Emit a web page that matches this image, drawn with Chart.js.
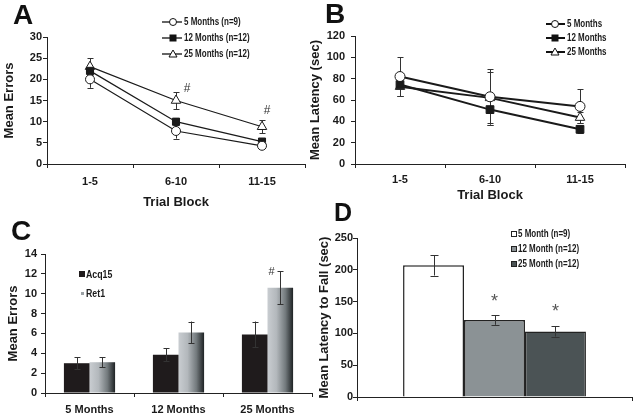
<!DOCTYPE html>
<html>
<head>
<meta charset="utf-8">
<script src="https://cdn.jsdelivr.net/npm/chart.js@4.4.0/dist/chart.umd.min.js"></script>
<style>
  body { margin: 0; background: #fff; }
  #wrap { position: relative; width: 637px; height: 419px; overflow: hidden; background: #fff;
          font-family: 'Liberation Sans', Arial, sans-serif; color: #1a1a1a; }
  canvas { position: absolute; }
  .letter { position: absolute; font-weight: bold; font-size: 28px; line-height: 28px; color: #111; }
  .leg { position: absolute; font-weight: bold; font-size: 10px; line-height: 12px; white-space: nowrap;
         transform: scaleX(0.8); transform-origin: 0 50%; color: #1a1a1a; }
  .legsvg { position: absolute; line-height: 0; }
  .legsvg svg { display: block; }
</style>
</head>
<body>
<div id="wrap">
  <canvas id="chartA" width="318" height="210" style="left:0;top:0"></canvas>
  <canvas id="chartB" width="331" height="210" style="left:306px;top:0"></canvas>
  <canvas id="chartC" width="318" height="209" style="left:0;top:210px"></canvas>
  <canvas id="chartD" width="331" height="209" style="left:306px;top:210px"></canvas>
  <div class="letter" style="left:13px;top:1px">A</div>
  <div class="letter" style="left:325px;top:0px">B</div>
  <div class="letter" style="left:11px;top:217px">C</div>
  <div class="letter" style="left:334px;top:200px;font-size:25px;line-height:25px">D</div>
</div>
<script>
// Panel A: errors per trial block
const trialBlocks = ['1-5', '6-10', '11-15'];
const seriesA = ['5 Months (n=9)', '12 Months (n=12)', '25 Months (n=12)'];
const errors5 = [20, 7.8, 4.3];
const errors5Err = [2, 1.8, 0.5];
const errors12 = [22, 10, 5.3];
const errors12Err = [0.8, 0.8, 0.5];
const errors25 = [23, 15, 8.8];
const errors25Err = [2, 2, 1.5];

// Panel B: latency per trial block
const seriesB = ['5 Months', '12 Months', '25 Months'];
const latency5 = [82, 63, 54];
const latency5Err = [18, 26, 16];
const latency12 = [74.5, 51, 32.5];
const latency12Err = [11, 14, 3];
const latency25 = [72.5, 62, 43.5];
const latency25Err = [9, 24, 5];

// Panel C: acquisition vs retention errors
const ageGroups = ['5 Months', '12 Months', '25 Months'];
const seriesC = ['Acq15', 'Ret1'];
const acq15 = [3.0, 3.85, 5.9];
const acq15Err = [0.6, 0.65, 1.3];
const ret1 = [3.1, 6.1, 10.6];
const ret1Err = [0.5, 1.1, 1.65];

// Panel D: rotarod latency to fall
const seriesD = ['5 Month (n=9)', '12 Month (n=12)', '25 Month (n=12)'];
const fallLatency = [207, 121, 103];
const fallErr = [16, 7.5, 8];

const ink = '#1a1a1a';
const family = "'Liberation Sans', Arial, sans-serif";
function bold(size) { return { family: family, size: size, weight: 'bold' }; }

// error bars drawn from each dataset's "errors" array
function errorBars(cap, under) {
  function draw(chart) {
    const ctx = chart.ctx;
    const y = chart.scales.y;
    ctx.save();
    ctx.strokeStyle = '#333';
    ctx.lineWidth = 1;
    chart.data.datasets.forEach((ds, di) => {
      if (!ds.errors) return;
      chart.getDatasetMeta(di).data.forEach((el, i) => {
        const top = y.getPixelForValue(ds.data[i] + ds.errors[i]);
        const bot = y.getPixelForValue(ds.data[i] - ds.errors[i]);
        const x = Math.round(el.x) + 0.5;
        ctx.beginPath();
        ctx.moveTo(x, top); ctx.lineTo(x, bot);
        ctx.moveTo(x - cap, Math.round(top) + 0.5); ctx.lineTo(x + cap, Math.round(top) + 0.5);
        ctx.moveTo(x - cap, Math.round(bot) + 0.5); ctx.lineTo(x + cap, Math.round(bot) + 0.5);
        ctx.stroke();
      });
    });
    ctx.restore();
  }
  return {
    id: 'errorBars',
    beforeDatasetsDraw(chart) { if (under) draw(chart); },
    afterDatasetsDraw(chart) { if (!under) draw(chart); }
  };
}

// significance marks (# and *) placed at data values
function marks(items) {
  return {
    id: 'marks',
    afterDatasetsDraw(chart) {
      const ctx = chart.ctx;
      items.forEach(m => {
        const x = m.dataset !== undefined
          ? chart.getDatasetMeta(m.dataset).data[m.index].x
          : chart.scales.x.getPixelForValue(m.index);
        const y = chart.scales.y.getPixelForValue(m.value);
        ctx.save();
        ctx.font = m.font;
        ctx.fillStyle = m.color;
        ctx.textAlign = 'center';
        ctx.textBaseline = 'middle';
        ctx.fillText(m.text, x + (m.dx || 0), y);
        ctx.restore();
      });
    }
  };
}

function xAxis(opts) {
  return {
    offset: true,
    grid: { offset: true, drawOnChartArea: false, tickLength: 4, color: '#222' },
    border: { color: '#222' },
    ticks: { font: bold(11), color: ink, padding: opts.pad, display: opts.labels !== false },
    title: opts.title ? { display: true, text: opts.title, font: bold(13), color: ink,
                          padding: { top: 0, bottom: opts.titlePad } } : { display: false },
    afterFit: s => { s.height = opts.height; }
  };
}

function yAxis(opts) {
  return {
    min: 0, max: opts.max,
    grid: { drawOnChartArea: false, tickLength: 4, color: '#222' },
    border: { color: '#222' },
    ticks: { stepSize: opts.step, font: bold(11), color: ink, padding: opts.pad },
    title: { display: true, text: opts.title, font: bold(13), color: ink,
             padding: { top: opts.titlePad, bottom: 0 } },
    afterFit: s => { s.width = opts.width; }
  };
}

function lineSet(label, data, errors, style, fill, radius, width) {
  return {
    label: label, data: data, errors: errors,
    borderColor: ink, borderWidth: width, tension: 0, fill: false,
    pointStyle: style, pointRadius: radius, pointBackgroundColor: fill,
    pointBorderColor: ink, pointBorderWidth: 1
  };
}

const base = { responsive: false, animation: false, events: [] };

// A
new Chart(document.getElementById('chartA'), {
  type: 'line',
  data: {
    labels: trialBlocks,
    datasets: [
      lineSet(seriesA[0], errors5, errors5Err, 'circle', '#fff', 4.5, 1.2),
      lineSet(seriesA[1], errors12, errors12Err, 'rect', ink, 5, 1.2),
      lineSet(seriesA[2], errors25, errors25Err, 'triangle', '#fff', 5.5, 1.2)
    ]
  },
  options: Object.assign({}, base, {
    layout: { padding: { top: 37, right: 13, left: 0, bottom: 0 } },
    plugins: { legend: { display: false }, tooltip: { enabled: false } },
    scales: {
      x: xAxis({ pad: 7, title: 'Trial Block', titlePad: 0, height: 46 }),
      y: yAxis({ max: 30, step: 5, pad: 1, title: 'Mean Errors', titlePad: 2, width: 47 })
    }
  }),
  plugins: [errorBars(3, true), marks([
    { text: '#', index: 1, value: 17.7, dx: 11, font: '12px ' + family, color: '#333' },
    { text: '#', index: 2, value: 12.5, dx: 5, font: '12px ' + family, color: '#333' }
  ])]
});

// B
new Chart(document.getElementById('chartB'), {
  type: 'line',
  data: {
    labels: trialBlocks,
    datasets: [
      lineSet(seriesB[0], latency5, latency5Err, 'circle', '#fff', 5, 2),
      lineSet(seriesB[1], latency12, latency12Err, 'rect', ink, 5.5, 2),
      lineSet(seriesB[2], latency25, latency25Err, 'triangle', '#fff', 5.5, 2)
    ]
  },
  options: Object.assign({}, base, {
    layout: { padding: { top: 36, right: 12, left: 0, bottom: 0 } },
    plugins: { legend: { display: false }, tooltip: { enabled: false } },
    scales: {
      x: xAxis({ pad: 5, title: 'Trial Block', titlePad: 7, height: 46 }),
      y: yAxis({ max: 120, step: 20, pad: 6, title: 'Mean Latency (sec)', titlePad: 2, width: 49 })
    }
  }),
  plugins: [errorBars(3, true)]
});

// C
function ret1Fill(c) {
  const el = c.chart.getDatasetMeta(c.datasetIndex).data[c.dataIndex];
  if (!el || !isFinite(el.x) || !isFinite(el.width)) return '#9aa0a4';
  const g = c.chart.ctx.createLinearGradient(el.x - el.width / 2, 0, el.x + el.width / 2, 0);
  g.addColorStop(0, '#c9cdd1');
  g.addColorStop(0.35, '#b3b8bc');
  g.addColorStop(0.7, '#737a7d');
  g.addColorStop(1, '#1e2224');
  return g;
}

const chartC = new Chart(document.getElementById('chartC'), {
  type: 'bar',
  data: {
    labels: ageGroups,
    datasets: [
      { label: seriesC[0], data: acq15, errors: acq15Err, backgroundColor: '#1f1b1c', borderWidth: 0 },
      { label: seriesC[1], data: ret1, errors: ret1Err, backgroundColor: ret1Fill, borderWidth: 0 }
    ]
  },
  options: Object.assign({}, base, {
    layout: { padding: { top: 44, right: 6, left: 0, bottom: 0 } },
    datasets: { bar: { categoryPercentage: 0.575, barPercentage: 1 } },
    plugins: { legend: { display: false }, tooltip: { enabled: false } },
    scales: {
      x: xAxis({ pad: 6, height: 26 }),
      y: yAxis({ max: 14, step: 2, pad: 4, title: 'Mean Errors', titlePad: 6, width: 45 })
    }
  }),
  plugins: [errorBars(3, false), marks([
    { text: '#', index: 2, value: 12.2, dx: 4, font: '11px ' + family, color: '#333' }
  ])]
});
chartC.update('none');

// D
new Chart(document.getElementById('chartD'), {
  type: 'bar',
  data: {
    labels: [''],
    datasets: [
      { label: seriesD[0], data: [fallLatency[0]], errors: [fallErr[0]], backgroundColor: '#ffffff' },
      { label: seriesD[1], data: [fallLatency[1]], errors: [fallErr[1]], backgroundColor: '#8b9295' },
      { label: seriesD[2], data: [fallLatency[2]], errors: [fallErr[2]], backgroundColor: '#4b5355' }
    ]
  },
  options: Object.assign({}, base, {
    layout: { padding: { top: 28, right: 5, left: 0, bottom: 0 } },
    datasets: { bar: { categoryPercentage: 0.665, barPercentage: 1, borderWidth: 1.5, borderColor: '#222' } },
    plugins: { legend: { display: false }, tooltip: { enabled: false } },
    scales: {
      x: xAxis({ pad: 0, height: 22, labels: false }),
      y: yAxis({ max: 250, step: 50, pad: 0, title: 'Mean Latency to Fall (sec)', titlePad: 11, width: 51 })
    }
  }),
  plugins: [errorBars(4, false), marks([
    { text: '*', dataset: 1, index: 0, value: 150, font: '18px ' + family, color: '#555' },
    { text: '*', dataset: 2, index: 0, value: 133, font: '18px ' + family, color: '#555' }
  ])]
});

// legends
const wrap = document.getElementById('wrap');
function addText(text, left, cy, size) {
  const d = document.createElement('div');
  d.className = 'leg';
  d.style.left = left + 'px';
  d.style.top = (cy - 6) + 'px';
  if (size) d.style.fontSize = size + 'px';
  d.textContent = text;
  wrap.appendChild(d);
}
function addSvg(inner, left, cy, w, h) {
  const s = document.createElement('div');
  s.className = 'legsvg';
  s.style.left = left + 'px';
  s.style.top = (cy - h / 2) + 'px';
  s.innerHTML = '<svg width="' + w + '" height="' + h + '" xmlns="http://www.w3.org/2000/svg">' + inner + '</svg>';
  wrap.appendChild(s);
}
const markerShapes = [
  (cx, cy, r) => '<circle cx="' + cx + '" cy="' + cy + '" r="' + r + '" fill="#fff" stroke="#111" stroke-width="1"/>',
  (cx, cy, r) => '<rect x="' + (cx - r) + '" y="' + (cy - r) + '" width="' + 2 * r + '" height="' + 2 * r + '" fill="#111"/>',
  (cx, cy, r) => '<polygon points="' + cx + ',' + (cy - r - 0.5) + ' ' + (cx + r + 0.5) + ',' + (cy + r - 0.5) + ' ' + (cx - r - 0.5) + ',' + (cy + r - 0.5) + '" fill="#fff" stroke="#111" stroke-width="1"/>'
];
const rowsA = [22, 38, 54];
seriesA.forEach((t, i) => {
  addSvg('<line x1="0" y1="6" x2="20" y2="6" stroke="#111" stroke-width="1.3"/>' + markerShapes[i](11, 6, 3.5), 162, rowsA[i], 22, 12);
  addText(t, 184, rowsA[i]);
});
const rowsB = [24, 38, 52];
seriesB.forEach((t, i) => {
  addSvg('<line x1="0" y1="6" x2="19" y2="6" stroke="#111" stroke-width="2"/>' + markerShapes[i](9, 6, 3.5), 546, rowsB[i], 20, 12);
  addText(t, 567, rowsB[i]);
});
addSvg('<rect x="0" y="0" width="6" height="6" fill="#1f1b1c"/>', 79, 274, 6, 6);
addText(seriesC[0], 86, 274, 11);
addSvg('<rect x="0" y="0" width="3" height="3" fill="#9aa0a4"/>', 81, 293, 3, 3);
addText(seriesC[1], 86, 293, 11);
const rowsD = [234, 249, 264];
const fillsD = ['#ffffff', '#8b9295', '#4b5355'];
seriesD.forEach((t, i) => {
  addSvg('<rect x="0.5" y="0.5" width="5" height="5" fill="' + fillsD[i] + '" stroke="#222" stroke-width="1"/>', 511, rowsD[i], 6, 6);
  addText(t, 518, rowsD[i]);
});
</script>
</body>
</html>
